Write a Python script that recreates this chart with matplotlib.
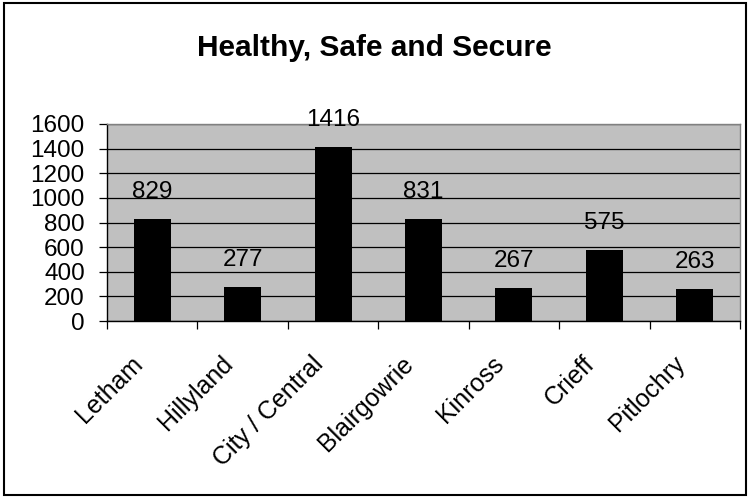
import matplotlib
matplotlib.use("Agg")
import matplotlib.pyplot as plt
from matplotlib.patches import Rectangle
from matplotlib.transforms import ScaledTranslation
import numpy as np

categories = ["Letham", "Hillyland", "City / Central", "Blairgowrie", "Kinross", "Crieff", "Pitlochry"]
values = [829, 277, 1416, 831, 267, 575, 263]
y_ticks = [0, 200, 400, 600, 800, 1000, 1200, 1400, 1600]
title = "Healthy, Safe and Secure"

plt.rcParams["font.family"] = ["Liberation Sans", "DejaVu Sans"]

fig = plt.figure(figsize=(7.49, 4.99), dpi=100)
fig.patch.set_facecolor("white")
fig.patches.append(Rectangle((0.006, 0.008), 0.990, 0.986, transform=fig.transFigure,
                             fill=False, edgecolor="black", linewidth=1.5))

ax = fig.add_axes([107 / 749, 1 - 321 / 499, (740 - 107) / 749, (321 - 124) / 499])
ax.set_facecolor("#c0c0c0")

x = np.arange(len(categories))
ax.bar(x, values, width=0.41, color="black", zorder=3)
for xi, v in zip(x, values):
    ax.annotate(str(v), (xi, v), xytext=(0, 15), textcoords="offset points",
                ha="center", va="baseline", fontsize=17.5, zorder=4)

ax.set_xlim(-0.5, len(categories) - 0.5)
ax.set_ylim(0, 1600)
ax.set_yticks(y_ticks)
ax.set_yticklabels([str(t) for t in y_ticks], fontsize=17.5)
ax.yaxis.grid(True, color="black", linewidth=0.9, zorder=1)
ax.set_axisbelow(True)

# Category labels sit under each bar, tick marks on category boundaries
ax.set_xticks(x)
ax.set_xticklabels(categories, rotation=45, ha="right", rotation_mode="anchor", fontsize=18)
ax.tick_params(axis="x", length=0, pad=22)
shift = ScaledTranslation(-22 / 100, 0, fig.dpi_scale_trans)
for lbl in ax.get_xticklabels():
    lbl.set_transform(lbl.get_transform() + shift)
ax.set_xticks(np.arange(len(categories) + 1) - 0.5, minor=True)
ax.tick_params(axis="x", which="minor", length=6, width=0.9, direction="out")
ax.tick_params(axis="y", length=6, width=0.9, direction="out", pad=10)

for side in ("top", "right"):
    ax.spines[side].set_color("#808080")
    ax.spines[side].set_linewidth(1.0)
for side in ("left", "bottom"):
    ax.spines[side].set_color("black")
    ax.spines[side].set_linewidth(1.0)

fig.text(0.5, 1 - 48 / 499, title, ha="center", va="center", fontsize=21.5, fontweight="bold")

fig.savefig("out.png", dpi=100)
